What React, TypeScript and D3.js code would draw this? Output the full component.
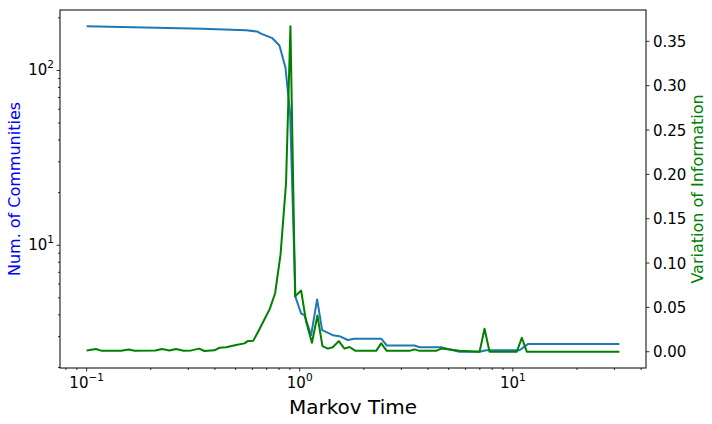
import React, { useEffect, useRef } from 'react';
import * as d3 from 'd3';

// Markov time samples and readings
const blueTimes = [0.1, 0.349, 0.56, 0.633, 0.661, 0.744, 0.803, 0.857, 0.9015, 0.9546, 1.0153, 1.0523, 1.131, 1.2067, 1.2742, 1.4289, 1.536, 1.6806, 1.8066, 2.4114, 2.5618, 3.4555, 3.6475, 4.6131, 4.9527, 5.6206, 6.9802, 7.5032, 10.75, 11.76, 31.62];
const communities = [179, 173, 170, 167, 162, 153, 139, 104, 56.6, 5.07, 4.07, 3.98, 3.06, 4.9, 3.27, 3.06, 3.02, 2.87, 2.92, 2.92, 2.67, 2.67, 2.61, 2.61, 2.55, 2.46, 2.46, 2.51, 2.51, 2.72, 2.72];

const greenTimes = [0.1, 0.1107, 0.1169, 0.145, 0.1575, 0.168, 0.21, 0.2259, 0.245, 0.2629, 0.285, 0.31, 0.3381, 0.3569, 0.3977, 0.4198, 0.4513, 0.5028, 0.55, 0.57, 0.6058, 0.6425, 0.6815, 0.7227, 0.7666, 0.8131, 0.8624, 0.9044, 0.9515, 1.0153, 1.0715, 1.141, 1.2107, 1.2783, 1.3535, 1.4289, 1.5247, 1.6217, 1.7122, 1.8262, 2.2845, 2.4114, 2.5618, 3.2734, 3.4555, 3.6475, 4.3706, 4.6131, 4.9527, 5.6206, 6.9802, 7.3672, 7.7758, 10.44, 11.02, 11.63, 31.62];
const variation = [0.0015, 0.003, 0.0012, 0.0012, 0.0024, 0.0012, 0.0015, 0.003, 0.0015, 0.003, 0.0012, 0.0015, 0.0035, 0.0008, 0.0016, 0.0045, 0.005, 0.0075, 0.0094, 0.012, 0.0125, 0.024, 0.036, 0.048, 0.066, 0.11, 0.19, 0.367, 0.0624, 0.069, 0.034, 0.0102, 0.0408, 0.0064, 0.0035, 0.005, 0.012, 0.0035, 0.0053, 0.001, 0.001, 0.0094, 0.001, 0.001, 0.0027, 0.001, 0.001, 0.0035, 0.0027, 0.001, 0.0, 0.026, 0.0, 0.0, 0.0158, 0.0, 0.0];

const xMajor = [0.1, 1, 10];
const xMajorExp = ['−1', '0', '1'];
const leftMajor = [10, 100];
const leftMajorExp = ['1', '2'];
const rightTicks = [0, 0.05, 0.1, 0.15, 0.2, 0.25, 0.3, 0.35];

const W = 712;
const H = 424;
const margin = { top: 10, right: 66, bottom: 56, left: 60 };

const logPad = (vals: number[]): [number, number] => {
  const lo = Math.log10(d3.min(vals) as number);
  const hi = Math.log10(d3.max(vals) as number);
  const p = (hi - lo) * 0.05;
  return [Math.pow(10, lo - p), Math.pow(10, hi + p)];
};

const App: React.FC = () => {
  const svgRef = useRef<SVGSVGElement>(null);

  useEffect(() => {
    const svg = d3.select(svgRef.current);
    svg.selectAll('*').remove();

    const innerW = W - margin.left - margin.right;
    const innerH = H - margin.top - margin.bottom;
    const font = 'DejaVu Sans, sans-serif';

    const x = d3.scaleLog().domain(logPad(blueTimes.concat(greenTimes))).range([0, innerW]);
    const yL = d3.scaleLog().domain(logPad(communities)).range([innerH, 0]);
    const [vMin, vMax] = d3.extent(variation) as [number, number];
    const vp = (vMax - vMin) * 0.05;
    const yR = d3.scaleLinear().domain([vMin - vp, vMax + vp]).range([innerH, 0]);

    const g = svg.append('g').attr('transform', `translate(${margin.left},${margin.top})`);

    // Lines
    const blueLine = d3.line<number>()
      .x((_, i) => x(blueTimes[i]))
      .y(d => yL(d));
    g.append('path')
      .datum(communities)
      .attr('fill', 'none')
      .attr('stroke', '#1f77b4')
      .attr('stroke-width', 2)
      .attr('stroke-linejoin', 'round')
      .attr('d', blueLine);

    const greenLine = d3.line<number>()
      .x((_, i) => x(greenTimes[i]))
      .y(d => yR(d));
    g.append('path')
      .datum(variation)
      .attr('fill', 'none')
      .attr('stroke', 'green')
      .attr('stroke-width', 2)
      .attr('stroke-linejoin', 'round')
      .attr('d', greenLine);

    // Frame
    g.append('rect')
      .attr('width', innerW)
      .attr('height', innerH)
      .attr('fill', 'none')
      .attr('stroke', '#000')
      .attr('stroke-width', 1);

    // Minor ticks on log axes
    const xd = x.domain();
    const xMinor: number[] = [];
    for (let e = -2; e <= 2; e++) {
      for (let m = 2; m <= 9; m++) {
        const v = m * Math.pow(10, e);
        if (v >= xd[0] && v <= xd[1]) xMinor.push(v);
      }
    }
    g.selectAll('.xminor').data(xMinor).enter().append('line')
      .attr('x1', d => x(d)).attr('x2', d => x(d))
      .attr('y1', innerH).attr('y2', innerH + 2)
      .attr('stroke', '#000').attr('stroke-width', 0.8);

    const yd = yL.domain();
    const yMinor: number[] = [];
    for (let e = 0; e <= 3; e++) {
      for (let m = 2; m <= 9; m++) {
        const v = m * Math.pow(10, e);
        if (v >= yd[0] && v <= yd[1]) yMinor.push(v);
      }
    }
    g.selectAll('.yminor').data(yMinor).enter().append('line')
      .attr('x1', -2).attr('x2', 0)
      .attr('y1', d => yL(d)).attr('y2', d => yL(d))
      .attr('stroke', '#000').attr('stroke-width', 0.8);

    // Major x ticks
    xMajor.forEach((v, i) => {
      g.append('line')
        .attr('x1', x(v)).attr('x2', x(v))
        .attr('y1', innerH).attr('y2', innerH + 3.5)
        .attr('stroke', '#000').attr('stroke-width', 0.8);
      const t = g.append('text')
        .attr('x', x(v))
        .attr('y', innerH + 20)
        .attr('text-anchor', 'middle')
        .style('font-family', font)
        .style('font-size', '15px')
        .style('fill', '#000');
      t.append('tspan').text('10');
      t.append('tspan').attr('dy', -7).style('font-size', '10.5px').text(xMajorExp[i]);
    });

    // Major left ticks
    leftMajor.forEach((v, i) => {
      g.append('line')
        .attr('x1', -3.5).attr('x2', 0)
        .attr('y1', yL(v)).attr('y2', yL(v))
        .attr('stroke', '#000').attr('stroke-width', 0.8);
      const t = g.append('text')
        .attr('x', -6)
        .attr('y', yL(v) + 5)
        .attr('text-anchor', 'end')
        .style('font-family', font)
        .style('font-size', '15px')
        .style('fill', '#000');
      t.append('tspan').text('10');
      t.append('tspan').attr('dy', -7).style('font-size', '10.5px').text(leftMajorExp[i]);
    });

    // Right ticks
    rightTicks.forEach(v => {
      g.append('line')
        .attr('x1', innerW).attr('x2', innerW + 3.5)
        .attr('y1', yR(v)).attr('y2', yR(v))
        .attr('stroke', '#000').attr('stroke-width', 0.8);
      g.append('text')
        .attr('x', innerW + 7)
        .attr('y', yR(v) + 5.5)
        .attr('text-anchor', 'start')
        .style('font-family', font)
        .style('font-size', '15px')
        .style('fill', '#000')
        .text(d3.format('.2f')(v));
    });

    // Axis labels
    svg.append('text')
      .attr('x', margin.left + innerW / 2)
      .attr('y', 414)
      .attr('text-anchor', 'middle')
      .style('font-family', font)
      .style('font-size', '20px')
      .style('fill', '#000')
      .text('Markov Time');

    svg.append('text')
      .attr('transform', `translate(20, ${margin.top + innerH / 2}) rotate(-90)`)
      .attr('text-anchor', 'middle')
      .style('font-family', font)
      .style('font-size', '16px')
      .style('fill', 'blue')
      .text('Num. of Communities');

    svg.append('text')
      .attr('transform', `translate(703, ${margin.top + innerH / 2}) rotate(-90)`)
      .attr('text-anchor', 'middle')
      .style('font-family', font)
      .style('font-size', '16px')
      .style('fill', 'green')
      .text('Variation of Information');
  }, []);

  return (
    <svg
      ref={svgRef}
      width={W}
      height={H}
      style={{ position: 'absolute', left: 0, top: 0, background: '#fff' }}
    />
  );
};

export default App;
